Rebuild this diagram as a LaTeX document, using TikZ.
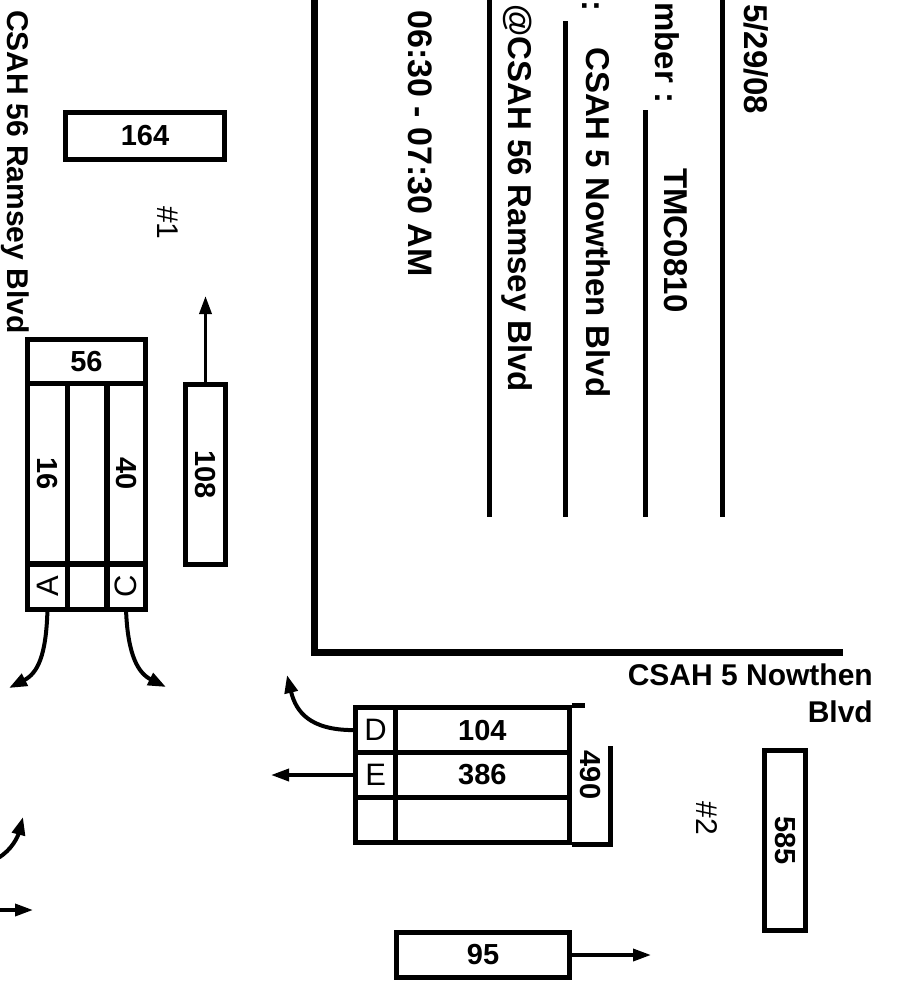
\documentclass[tikz,border=0pt]{standalone}
\usepackage{fontspec}
\setmainfont{Liberation Sans}
\usetikzlibrary{arrows.meta}
\newcommand{\rotdn}[1]{\rotatebox[origin=c]{-90}{#1}}
\newcommand{\rotup}[1]{\rotatebox[origin=c]{90}{#1}}
\tikzset{
  cell/.style={draw, line width=5pt, inner sep=0pt, font=\fontsize{29}{32}\selectfont\bfseries},
  ltr/.style={font=\fontsize{31}{34}\selectfont\mdseries},
  hdr/.style={rotate=-90, inner sep=0pt, anchor=base west, font=\fontsize{33}{38}\selectfont\bfseries},
  street/.style={inner sep=0pt, font=\fontsize{30}{34}\selectfont\bfseries},
  arr/.style={line width=3.5pt, -{Triangle[length=18pt,width=12pt]}},
  carr/.style={line width=4pt, -{Triangle[length=18pt,width=13pt]}},
  hdrframe/.style={line width=7pt},
  hdrrule/.style={line width=5pt},
}
\begin{document}
\begin{tikzpicture}[x=1pt, y=-1pt]
    \useasboundingbox (0,0) rectangle (899,983);

    % Header block
    \draw[hdrframe] (314,-8) -- (314,652) -- (843,652);
    \draw[hdrrule] (489,-8) -- (489,517);
    \draw[hdrrule] (565,21) -- (565,517);
    \draw[hdrrule] (645,110) -- (645,517);
    \draw[hdrrule] (722,-8) -- (722,517);
    \node[hdr, font=\fontsize{34}{38}\selectfont\bfseries] (time) at (408,10) {06:30 - 07:30 AM};
    \node[hdr] (loc) at (508,4) {@CSAH 56 Ramsey Blvd};
    \node[hdr, anchor=base east] (sep) at (582,12) {:};
    \node[hdr] (road) at (586,47) {CSAH 5 Nowthen Blvd};
    \node[hdr] (num) at (655,2) {mber :};
    \node[hdr] (tmc) at (664,168) {TMC0810};
    \node[hdr] (date) at (744,4) {5/29/08};

    % Street names
    \node[street, rotate=-90, anchor=base west] (st56) at (8,10) {CSAH 56 Ramsey Blvd};
    \node[street, anchor=base east] (st5a) at (873,685) {CSAH 5 Nowthen};
    \node[street, anchor=base east] (st5b) at (873,722) {Blvd};

    % Site numbers
    \node[ltr, font=\fontsize{30}{32}\selectfont] (site1) at (168,223) {\rotdn{\#1}};
    \node[ltr, font=\fontsize{30}{32}\selectfont] (site2) at (707,818) {\rotdn{\#2}};

    % Totals
    \node[cell, minimum width=158.5pt, minimum height=46.5pt] (n164) at (145,136) {164};
    \node[cell, minimum width=39.5pt, minimum height=179.5pt] (n108) at (205.5,474.5) {\rotdn{108}};
    \node[cell, minimum width=40.5pt, minimum height=179.5pt] (n585) at (785,840.5) {\rotdn{585}};
    \node[cell, minimum width=172.5pt, minimum height=44.5pt] (n95) at (483,955) {95};

    % Approach on CSAH 56
    \node[cell, minimum width=117.5pt, minimum height=43.25pt] (c56) at (86.5,361.4) {56};
    \node[cell, minimum width=39.25pt, minimum height=181pt] (c16) at (47.4,473.5) {\rotdn{16}};
    \node[cell, minimum width=40pt, minimum height=181pt] (cmid) at (87,473.5) {};
    \node[cell, minimum width=38.25pt, minimum height=181pt] (c40) at (126.1,473.5) {\rotdn{40}};
    \node[cell, ltr, minimum width=39.25pt, minimum height=45.25pt] (cA) at (47.4,586.6) {\rotup{A}};
    \node[cell, minimum width=40pt, minimum height=45.25pt] (cB) at (87,586.6) {};
    \node[cell, ltr, minimum width=38.25pt, minimum height=45.25pt] (cC) at (126.1,586.6) {\rotup{C}};

    % Approach on CSAH 5
    \node[cell, ltr, minimum width=39.75pt, minimum height=44.75pt] (cD) at (375.6,730.1) {D};
    \node[cell, minimum width=173.75pt, minimum height=44.75pt] (n104) at (482.4,730.1) {104};
    \node[cell, ltr, minimum width=39.75pt, minimum height=45pt] (cE) at (375.6,775) {E};
    \node[cell, minimum width=173.75pt, minimum height=45pt] (n386) at (482.4,775) {386};
    \node[cell, minimum width=39.75pt, minimum height=44.75pt] (cX) at (375.6,819.9) {};
    \node[cell, minimum width=173.75pt, minimum height=44.75pt] (cY) at (482.4,819.9) {};
    \draw[line width=5pt] (n104.north east) -- ++(13,0);
    \draw[line width=5pt] (cY.south east) -- ++(38.75,0) -- ++(0,-99);
    \node[font=\fontsize{29}{32}\selectfont\bfseries] (n490) at (590,775) {\rotdn{490}};

    % Movements
    \coordinate (t108) at (205.5,296);
    \draw[arr] (n108.north) -- (t108);
    \coordinate (tA) at (9,688);
    \draw[carr] (cA.south) .. controls (46,655) and (38,673) .. (tA);
    \coordinate (tC) at (166,687);
    \draw[carr] (cC.south) .. controls (128,655) and (138,673) .. (tC);
    \coordinate (tD) at (287,675);
    \draw[carr] (cD.west) .. controls (310,730) and (296,712) .. (tD);
    \coordinate (tE) at (271,775);
    \draw[arr] (cE.west) -- (tE);
    \coordinate (t95) at (651,955);
    \draw[arr] (n95.east) -- (t95);
    \coordinate (sL1) at (-2,858);
    \coordinate (tL1) at (23,817);
    \draw[carr] (sL1) .. controls (12,850) and (18,836) .. (tL1);
    \coordinate (sL2) at (-2,910);
    \coordinate (tL2) at (33,910);
    \draw[arr] (sL2) -- (tL2);
\end{tikzpicture}
\end{document}
